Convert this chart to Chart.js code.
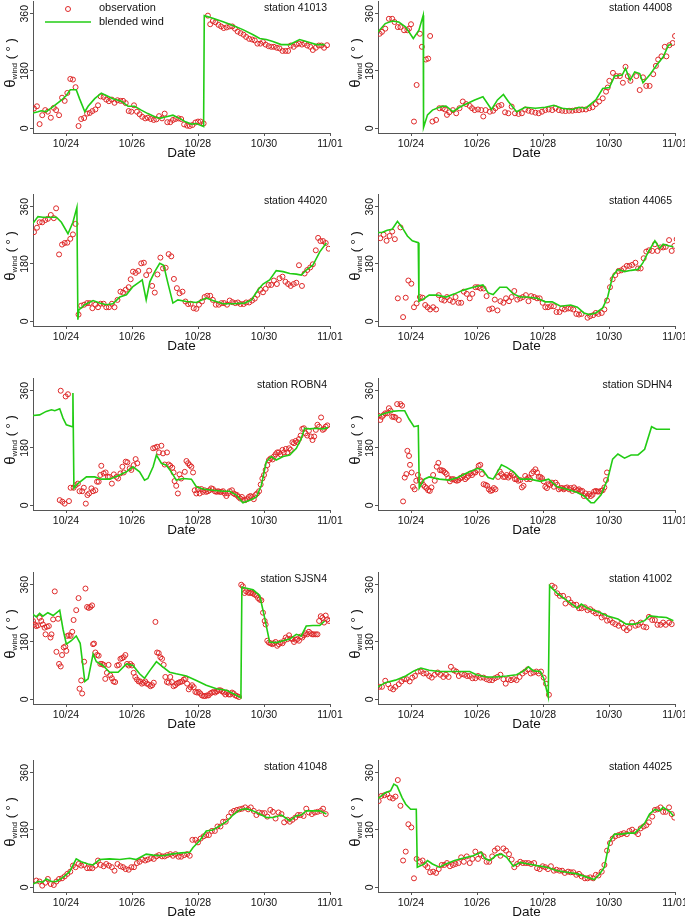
<!DOCTYPE html>
<html>
<head>
<meta charset="utf-8">
<title>Wind direction at buoy stations</title>
<script src="https://cdn.jsdelivr.net/npm/chart.js@4.4.0/dist/chart.umd.min.js"></script>
<style>
  body { margin: 0; background: #fff; }
  #wrap { position: relative; width: 685px; height: 916px; overflow: hidden; }
  #wrap canvas { position: absolute; }
</style>
</head>
<body>
<div id="wrap"></div>
<script>
// x is days since 10/23 00:00, y is wind direction in degrees
var dateTicks = [1, 3, 5, 7, 9];
var dateLabels = ['10/24', '10/26', '10/28', '10/30', '11/01'];
var angleTicks = [0, 180, 360];

var obs41013 = [[0.03,62],[0.12,69],[0.2,13],[0.28,41],[0.37,57],[0.45,52],[0.54,33],[0.63,64],[0.7,57],[0.79,41],[0.88,96],[0.96,86],[1.04,111],[1.13,155],[1.21,153],[1.29,129],[1.38,7],[1.46,29],[1.55,32],[1.64,46],[1.72,48],[1.8,54],[1.89,59],[1.97,72],[2.05,100],[2.14,98],[2.22,90],[2.3,85],[2.39,90],[2.47,80],[2.56,88],[2.65,86],[2.73,86],[2.81,79],[2.9,54],[2.98,52],[3.06,72],[3.15,52],[3.23,44],[3.31,36],[3.4,31],[3.48,33],[3.57,29],[3.66,26],[3.74,28],[3.82,38],[3.91,31],[3.99,46],[4.07,19],[4.16,19],[4.24,26],[4.32,29],[4.41,31],[4.49,29],[4.58,12],[4.67,8],[4.75,7],[4.83,10],[4.92,18],[5.0,21],[5.08,21],[5.17,15],[5.3,354],[5.37,327],[5.45,337],[5.53,333],[5.62,325],[5.7,320],[5.78,315],[5.87,317],[5.96,320],[6.04,320],[6.12,313],[6.2,304],[6.29,299],[6.38,294],[6.46,287],[6.55,281],[6.64,279],[6.72,276],[6.8,266],[6.89,266],[6.97,271],[7.05,263],[7.14,258],[7.22,256],[7.3,256],[7.39,253],[7.47,251],[7.56,243],[7.65,243],[7.73,243],[7.81,260],[7.9,256],[7.98,263],[8.06,266],[8.15,263],[8.23,266],[8.31,260],[8.4,256],[8.48,246],[8.57,253],[8.66,260],[8.74,260],[8.82,253],[8.91,261]];
var wind41013 = [[0,48],[0.15,52],[0.25,55],[0.4,52],[0.6,67],[0.86,88],[1.01,103],[1.13,121],[1.31,121],[1.41,93],[1.57,52],[1.67,69],[1.87,93],[2.07,110],[2.22,103],[2.42,93],[2.68,85],[2.88,69],[3.08,69],[3.28,57],[3.48,46],[3.69,36],[3.84,31],[4.04,36],[4.24,41],[4.44,31],[4.6,21],[4.8,13],[4.95,15],[5.17,5],[5.19,354],[5.45,346],[5.76,335],[6.06,323],[6.36,310],[6.67,294],[6.87,282],[7.07,279],[7.27,273],[7.52,263],[7.78,263],[8.08,279],[8.28,273],[8.59,263],[8.84,263]];

var obs44008 = [[0.05,297],[0.12,303],[0.22,313],[0.33,344],[0.43,344],[0.5,334],[0.6,318],[0.68,318],[0.79,308],[0.89,308],[0.94,313],[1.0,327],[1.09,21],[1.17,136],[1.27,297],[1.33,256],[1.45,216],[1.52,219],[1.58,290],[1.65,21],[1.76,26],[1.86,63],[1.96,63],[2.03,59],[2.09,42],[2.16,50],[2.27,57],[2.37,47],[2.47,63],[2.57,84],[2.67,76],[2.78,70],[2.85,63],[2.93,57],[3.03,59],[3.13,57],[3.19,37],[3.26,57],[3.39,52],[3.49,55],[3.56,63],[3.66,70],[3.74,73],[3.85,50],[3.95,47],[4.05,68],[4.15,47],[4.26,45],[4.36,47],[4.46,59],[4.56,55],[4.66,52],[4.77,49],[4.87,47],[4.97,52],[5.07,57],[5.17,59],[5.28,57],[5.38,63],[5.48,57],[5.58,55],[5.68,54],[5.79,55],[5.89,55],[5.99,57],[6.09,57],[6.19,59],[6.3,59],[6.4,63],[6.5,66],[6.6,76],[6.7,84],[6.81,94],[6.91,115],[6.96,128],[7.01,149],[7.12,174],[7.22,164],[7.33,164],[7.42,143],[7.5,193],[7.57,164],[7.65,149],[7.83,164],[7.93,120],[8.03,160],[8.13,133],[8.23,133],[8.34,170],[8.42,196],[8.49,216],[8.59,226],[8.69,256],[8.74,226],[8.83,261],[8.93,268],[9.0,290]];
var wind44008 = [[0,303],[0.22,329],[0.43,337],[0.63,334],[0.84,318],[1.07,282],[1.24,308],[1.37,355],[1.38,2],[1.5,42],[1.65,57],[1.91,68],[2.06,70],[2.27,52],[2.47,66],[2.67,76],[2.93,89],[3.18,99],[3.44,59],[3.62,89],[3.8,106],[3.95,84],[4.2,52],[4.46,66],[4.77,63],[5.07,66],[5.33,72],[5.58,63],[5.89,59],[6.09,66],[6.3,63],[6.6,89],[6.81,125],[7.01,128],[7.17,164],[7.4,167],[7.5,188],[7.64,151],[7.78,177],[7.93,172],[8.03,143],[8.23,167],[8.44,198],[8.64,224],[8.8,261],[8.9,263]];

var obs44020 = [[0.03,280],[0.12,294],[0.2,311],[0.28,311],[0.37,318],[0.45,322],[0.54,334],[0.63,324],[0.7,355],[0.79,210],[0.88,241],[0.96,246],[1.04,247],[1.13,259],[1.21,273],[1.29,306],[1.38,21],[1.46,49],[1.55,52],[1.64,57],[1.72,57],[1.8,41],[1.89,52],[1.97,44],[2.05,55],[2.14,55],[2.22,44],[2.3,44],[2.39,55],[2.47,44],[2.56,67],[2.65,93],[2.73,90],[2.81,99],[2.9,107],[2.96,132],[3.03,156],[3.11,152],[3.19,158],[3.28,182],[3.36,184],[3.43,145],[3.52,159],[3.61,111],[3.69,90],[3.77,147],[3.86,200],[3.94,166],[4.02,168],[4.11,211],[4.19,204],[4.27,133],[4.36,104],[4.44,88],[4.53,93],[4.62,62],[4.7,54],[4.78,55],[4.87,41],[4.95,39],[5.03,52],[5.12,62],[5.2,76],[5.28,80],[5.37,80],[5.45,67],[5.54,52],[5.63,52],[5.71,57],[5.79,57],[5.88,52],[5.96,65],[6.04,60],[6.13,57],[6.21,59],[6.29,54],[6.38,54],[6.46,59],[6.55,59],[6.64,65],[6.72,71],[6.8,83],[6.89,99],[6.97,91],[7.05,102],[7.14,114],[7.22,114],[7.3,128],[7.39,117],[7.47,135],[7.56,140],[7.65,124],[7.73,117],[7.81,111],[7.9,117],[7.98,121],[8.06,176],[8.15,111],[8.23,150],[8.31,161],[8.4,169],[8.48,179],[8.57,223],[8.64,262],[8.71,252],[8.79,252],[8.87,246],[8.96,228]];
var wind44020 = [[0,308],[0.15,329],[0.3,327],[0.5,327],[0.71,327],[0.86,311],[1.06,275],[1.21,311],[1.33,358],[1.36,5],[1.39,36],[1.57,52],[1.82,65],[2.02,57],[2.22,52],[2.42,55],[2.63,76],[2.83,83],[3.03,109],[3.23,124],[3.31,130],[3.43,67],[3.54,124],[3.69,156],[3.84,182],[3.96,176],[4.09,119],[4.24,57],[4.39,67],[4.65,62],[4.95,59],[5.25,73],[5.45,65],[5.76,55],[6.06,55],[6.41,57],[6.62,67],[6.82,99],[6.97,117],[7.17,130],[7.37,159],[7.58,156],[7.78,150],[7.98,148],[8.13,145],[8.28,161],[8.48,176],[8.69,218],[8.89,246]];

var obs44065 = [[0.07,261],[0.17,272],[0.26,253],[0.35,268],[0.43,282],[0.51,258],[0.6,72],[0.68,295],[0.76,13],[0.84,74],[0.92,128],[1.01,118],[1.09,44],[1.17,56],[1.27,76],[1.35,74],[1.43,51],[1.5,44],[1.58,37],[1.67,44],[1.76,37],[1.84,82],[1.93,68],[2.01,65],[2.09,76],[2.18,66],[2.27,61],[2.35,76],[2.44,58],[2.52,58],[2.6,93],[2.69,86],[2.78,72],[2.86,86],[2.95,107],[3.03,107],[3.11,103],[3.2,103],[3.29,79],[3.37,37],[3.46,40],[3.54,68],[3.62,34],[3.71,63],[3.8,58],[3.88,72],[3.97,63],[4.05,76],[4.13,95],[4.22,68],[4.31,72],[4.39,76],[4.48,82],[4.56,63],[4.64,79],[4.73,76],[4.82,72],[4.9,72],[4.99,58],[5.07,44],[5.15,44],[5.24,47],[5.33,47],[5.41,29],[5.5,29],[5.58,40],[5.66,37],[5.76,40],[5.84,40],[5.92,37],[6.01,23],[6.09,21],[6.17,23],[6.35,11],[6.43,16],[6.52,19],[6.6,26],[6.68,23],[6.78,26],[6.86,37],[6.94,65],[7.03,107],[7.11,132],[7.19,145],[7.29,158],[7.37,160],[7.45,166],[7.54,174],[7.62,174],[7.7,177],[7.8,184],[7.88,166],[7.96,166],[8.05,198],[8.13,219],[8.21,223],[8.31,221],[8.39,242],[8.47,221],[8.56,232],[8.64,232],[8.72,234],[8.82,255],[8.9,221],[8.98,237],[9.05,258]];
var wind44065 = [[0,279],[0.12,279],[0.28,286],[0.43,289],[0.59,314],[0.73,295],[0.89,268],[1.04,253],[1.22,247],[1.24,63],[1.35,68],[1.55,82],[1.8,82],[2.06,76],[2.32,86],[2.57,97],[2.83,105],[3.03,111],[3.18,114],[3.34,89],[3.49,84],[3.69,107],[3.9,107],[4.1,86],[4.31,76],[4.51,76],[4.82,72],[5.07,61],[5.28,61],[5.53,47],[5.84,51],[6.04,44],[6.24,26],[6.4,21],[6.6,26],[6.81,42],[6.96,76],[7.11,142],[7.27,163],[7.47,156],[7.67,160],[7.88,163],[8.03,184],[8.18,216],[8.39,253],[8.54,229],[8.64,242],[8.8,237],[8.95,234]];

var obsROBN4 = [[0.81,16],[0.84,360],[0.89,11],[0.96,5],[0.99,342],[1.06,349],[1.09,13],[1.14,55],[1.23,55],[1.29,63],[1.36,68],[1.41,44],[1.49,44],[1.54,55],[1.6,5],[1.65,32],[1.7,37],[1.77,53],[1.82,44],[1.89,47],[1.94,74],[1.99,74],[2.04,95],[2.07,124],[2.14,100],[2.2,103],[2.27,89],[2.32,89],[2.39,68],[2.45,97],[2.53,89],[2.58,84],[2.65,100],[2.71,121],[2.75,103],[2.81,137],[2.86,135],[2.93,116],[2.98,111],[3.05,126],[3.11,145],[3.16,132],[3.64,179],[3.7,181],[3.76,184],[3.82,166],[3.89,187],[3.94,163],[3.99,128],[4.06,166],[4.11,128],[4.16,124],[4.22,118],[4.26,103],[4.29,76],[4.34,61],[4.39,37],[4.44,97],[4.49,84],[4.6,105],[4.65,139],[4.7,132],[4.75,126],[4.8,121],[4.85,103],[4.9,47],[4.95,37],[5.0,51],[5.05,37],[5.1,51],[5.15,42],[5.2,47],[5.25,42],[5.3,44],[5.35,47],[5.4,53],[5.45,51],[5.51,44],[5.56,42],[5.61,44],[5.66,42],[5.71,42],[5.76,44],[5.81,37],[5.86,29],[5.91,37],[5.96,44],[6.03,47],[6.08,37],[6.13,34],[6.18,32],[6.23,26],[6.28,21],[6.33,26],[6.38,16],[6.43,16],[6.48,19],[6.54,26],[6.59,29],[6.64,26],[6.69,19],[6.74,32],[6.79,37],[6.85,44],[6.9,65],[6.95,84],[7.0,95],[7.05,111],[7.1,126],[7.15,142],[7.2,147],[7.26,144],[7.3,153],[7.35,160],[7.4,166],[7.45,166],[7.5,160],[7.56,174],[7.6,166],[7.66,177],[7.71,166],[7.76,179],[7.81,174],[7.86,198],[7.91,195],[7.96,202],[8.01,198],[8.06,208],[8.11,219],[8.16,240],[8.21,242],[8.26,226],[8.31,219],[8.36,234],[8.42,216],[8.47,205],[8.52,216],[8.57,237],[8.62,253],[8.67,247],[8.73,276],[8.78,237],[8.82,240],[8.87,247],[8.92,251]];
var windROBN4 = [[0,282],[0.2,284],[0.4,295],[0.56,300],[0.66,297],[0.81,303],[0.91,274],[1.01,253],[1.19,247],[1.21,353],[1.24,53],[1.36,68],[1.62,89],[1.87,89],[2.07,82],[2.32,82],[2.58,93],[2.83,105],[3.03,121],[3.23,105],[3.38,79],[3.48,84],[3.64,121],[3.74,158],[3.89,132],[4.04,126],[4.19,105],[4.34,79],[4.55,84],[4.8,82],[4.95,58],[5.15,51],[5.45,47],[5.76,44],[5.96,44],[6.16,32],[6.36,8],[6.57,16],[6.77,26],[6.92,63],[7.07,137],[7.22,153],[7.37,142],[7.58,153],[7.78,158],[7.98,179],[8.13,210],[8.23,242],[8.38,240],[8.59,242],[8.79,240],[8.94,244]];

var obsSDHN4 = [[0.02,281],[0.07,268],[0.12,278],[0.17,284],[0.22,289],[0.28,289],[0.33,305],[0.38,297],[0.43,278],[0.48,278],[0.53,276],[0.58,318],[0.63,268],[0.68,318],[0.73,313],[0.76,12],[0.81,87],[0.86,98],[0.89,171],[0.94,155],[0.97,127],[1.02,103],[1.06,58],[1.11,50],[1.16,77],[1.21,95],[1.27,79],[1.32,75],[1.37,64],[1.42,58],[1.47,54],[1.52,47],[1.57,45],[1.62,56],[1.67,95],[1.72,77],[1.78,121],[1.83,133],[1.88,110],[1.93,110],[1.98,108],[2.03,103],[2.08,98],[2.13,85],[2.18,75],[2.23,82],[2.29,82],[2.34,79],[2.39,77],[2.44,79],[2.49,85],[2.54,87],[2.59,92],[2.64,82],[2.69,87],[2.74,92],[2.8,100],[2.85,95],[2.9,103],[2.95,103],[3.0,110],[3.05,124],[3.1,127],[3.15,98],[3.2,66],[3.26,64],[3.31,61],[3.36,50],[3.41,45],[3.46,47],[3.51,54],[3.56,50],[3.64,89],[3.69,106],[3.74,98],[3.8,89],[3.85,89],[3.9,95],[3.95,87],[4.0,92],[4.05,100],[4.1,95],[4.15,82],[4.2,82],[4.25,77],[4.31,79],[4.36,56],[4.41,61],[4.46,92],[4.51,82],[4.56,87],[4.61,82],[4.66,100],[4.71,106],[4.77,113],[4.82,103],[4.87,89],[4.92,89],[4.97,85],[5.02,75],[5.07,58],[5.12,54],[5.17,66],[5.22,64],[5.27,71],[5.33,58],[5.38,71],[5.43,64],[5.48,50],[5.53,54],[5.58,54],[5.63,50],[5.68,54],[5.73,56],[5.79,50],[5.84,54],[5.89,45],[5.94,56],[5.99,50],[6.04,47],[6.09,50],[6.14,45],[6.19,45],[6.24,29],[6.29,37],[6.35,29],[6.4,35],[6.45,29],[6.5,33],[6.55,43],[6.6,45],[6.65,43],[6.7,43],[6.76,45],[6.81,47],[6.86,56],[6.91,79],[6.94,103]];
var windSDHN4 = [[0,281],[0.22,289],[0.43,295],[0.63,297],[0.81,297],[0.94,271],[1.09,247],[1.22,250],[1.25,54],[1.4,82],[1.55,89],[1.86,82],[2.16,79],[2.42,87],[2.72,103],[3.03,116],[3.18,110],[3.34,87],[3.49,82],[3.64,108],[3.74,127],[3.9,119],[4.1,106],[4.31,82],[4.61,82],[4.92,75],[5.17,82],[5.43,58],[5.73,50],[6.04,40],[6.24,29],[6.45,8],[6.55,8],[6.76,33],[6.96,82],[7.11,145],[7.27,161],[7.47,148],[7.67,158],[7.88,158],[8.08,176],[8.29,247],[8.44,239],[8.64,239],[8.85,239]];

var obsSJSN4 = [[0,246],[0.05,235],[0.1,230],[0.15,232],[0.2,256],[0.25,246],[0.3,235],[0.35,225],[0.38,204],[0.42,228],[0.48,230],[0.53,194],[0.56,204],[0.61,251],[0.66,339],[0.71,149],[0.76,253],[0.79,111],[0.84,103],[0.88,139],[0.93,163],[0.98,166],[1.01,152],[1.04,199],[1.09,201],[1.14,199],[1.19,212],[1.23,249],[1.31,280],[1.38,318],[1.41,33],[1.46,59],[1.49,18],[1.55,118],[1.59,348],[1.64,290],[1.69,287],[1.74,290],[1.79,295],[1.82,173],[1.85,175],[1.89,147],[1.94,139],[1.99,137],[2.04,111],[2.09,111],[2.14,108],[2.19,64],[2.24,83],[2.29,108],[2.34,75],[2.39,66],[2.44,56],[2.49,54],[2.55,106],[2.6,108],[2.65,127],[2.7,129],[2.75,132],[2.8,139],[2.85,111],[2.9,106],[2.95,111],[3.0,106],[3.05,83],[3.1,70],[3.15,62],[3.2,56],[3.25,56],[3.3,49],[3.35,52],[3.4,56],[3.45,49],[3.51,46],[3.56,41],[3.61,44],[3.66,52],[3.71,243],[3.76,147],[3.81,145],[3.86,132],[3.91,127],[3.96,108],[4.01,70],[4.06,54],[4.11,52],[4.16,70],[4.21,54],[4.26,41],[4.31,44],[4.36,49],[4.41,52],[4.46,54],[4.52,56],[4.57,62],[4.62,64],[4.67,49],[4.72,31],[4.77,38],[4.82,44],[4.87,38],[4.92,23],[4.97,21],[5.02,23],[5.07,18],[5.12,12],[5.17,10],[5.22,10],[5.27,12],[5.32,12],[5.37,18],[5.42,21],[5.47,23],[5.52,21],[5.58,25],[5.63,28],[5.68,28],[5.73,25],[5.78,21],[5.83,15],[5.88,21],[5.93,15],[5.98,15],[6.03,21],[6.08,18],[6.13,12],[6.18,10],[6.24,7],[6.31,360],[6.36,355],[6.41,334],[6.46,339],[6.52,335],[6.57,334],[6.62,335],[6.67,332],[6.72,329],[6.77,326],[6.82,318],[6.87,313],[6.92,311],[6.97,272],[7.02,246],[7.05,235],[7.1,184],[7.15,178],[7.2,176],[7.25,173],[7.3,176],[7.35,180],[7.4,168],[7.45,173],[7.5,178],[7.56,176],[7.61,184],[7.66,194],[7.71,189],[7.76,201],[7.81,191],[7.86,189],[7.91,180],[7.96,187],[8.01,189],[8.06,184],[8.11,197],[8.16,194],[8.21,201],[8.26,207],[8.31,204],[8.36,212],[8.41,207],[8.46,204],[8.51,204],[8.57,204],[8.62,204],[8.67,246],[8.72,261],[8.77,256],[8.82,241],[8.87,263],[8.92,251],[8.97,246]];
var windSJSN4 = [[0,267],[0.1,259],[0.2,270],[0.3,261],[0.45,272],[0.61,263],[0.81,280],[0.91,220],[1.01,173],[1.16,184],[1.31,199],[1.43,176],[1.57,56],[1.67,64],[1.82,142],[1.92,118],[2.12,106],[2.32,85],[2.58,85],[2.83,111],[3.03,106],[3.23,80],[3.38,66],[3.54,90],[3.74,118],[3.94,101],[4.14,85],[4.34,80],[4.65,73],[4.95,59],[5.25,44],[5.56,33],[5.86,28],[6.06,18],[6.3,5],[6.33,352],[6.67,344],[6.87,326],[7.02,256],[7.17,180],[7.37,178],[7.58,184],[7.78,189],[7.98,204],[8.13,199],[8.28,230],[8.48,232],[8.69,232],[8.84,246]];

var obs41002 = [[0.04,39],[0.12,39],[0.22,58],[0.31,47],[0.38,35],[0.46,31],[0.53,39],[0.63,47],[0.71,56],[0.79,63],[0.87,63],[0.96,56],[1.04,68],[1.12,73],[1.21,87],[1.3,87],[1.38,81],[1.47,81],[1.55,73],[1.63,68],[1.72,77],[1.81,84],[1.89,77],[1.98,70],[2.06,77],[2.14,70],[2.21,102],[2.3,91],[2.37,87],[2.45,73],[2.54,79],[2.62,77],[2.7,73],[2.78,73],[2.86,66],[2.95,66],[3.03,73],[3.11,68],[3.2,68],[3.29,63],[3.37,60],[3.46,60],[3.54,66],[3.62,70],[3.71,77],[3.8,63],[3.87,49],[3.95,63],[4.03,60],[4.12,63],[4.2,60],[4.29,70],[4.38,81],[4.46,87],[4.54,94],[4.63,81],[4.71,84],[4.8,87],[4.87,81],[4.94,87],[5.02,68],[5.09,49],[5.18,14],[5.27,357],[5.35,352],[5.43,333],[5.51,325],[5.61,325],[5.68,301],[5.77,315],[5.84,304],[5.92,297],[6.01,297],[6.09,286],[6.17,286],[6.27,289],[6.35,280],[6.43,283],[6.52,276],[6.6,270],[6.68,270],[6.78,257],[6.86,262],[6.94,247],[7.03,249],[7.11,241],[7.19,236],[7.29,231],[7.37,238],[7.45,224],[7.54,217],[7.62,224],[7.7,241],[7.8,231],[7.88,234],[7.96,241],[8.05,228],[8.13,226],[8.21,259],[8.31,249],[8.39,249],[8.47,234],[8.56,234],[8.64,241],[8.72,234],[8.82,241],[8.9,236]];
var wind41002 = [[0,39],[0.22,52],[0.53,60],[0.84,73],[1.09,89],[1.3,98],[1.55,91],[1.86,87],[2.16,87],[2.47,87],[2.78,87],[2.98,77],[3.29,70],[3.59,70],[3.9,73],[4.2,77],[4.41,89],[4.56,102],[4.71,89],[4.92,87],[5.02,66],[5.16,8],[5.2,357],[5.43,333],[5.73,310],[6.04,286],[6.16,299],[6.35,286],[6.65,276],[6.96,262],[7.27,252],[7.52,236],[7.78,236],[8.08,247],[8.23,262],[8.49,259],[8.74,257],[8.95,247]];

var obs41048 = [[0.1,21],[0.2,18],[0.28,5],[0.37,14],[0.45,26],[0.54,10],[0.63,7],[0.71,18],[0.79,26],[0.88,28],[0.96,34],[1.04,42],[1.13,49],[1.21,68],[1.29,63],[1.38,73],[1.46,68],[1.55,70],[1.64,60],[1.72,60],[1.8,60],[1.89,68],[1.97,84],[2.05,70],[2.14,66],[2.22,73],[2.3,68],[2.39,63],[2.47,52],[2.56,73],[2.65,66],[2.73,63],[2.81,57],[2.9,55],[2.98,63],[3.06,63],[3.15,76],[3.23,80],[3.31,87],[3.4,84],[3.48,87],[3.57,91],[3.66,89],[3.74,97],[3.82,101],[3.91,97],[3.99,97],[4.07,101],[4.16,104],[4.24,99],[4.32,104],[4.41,96],[4.49,96],[4.58,101],[4.67,104],[4.75,99],[4.83,149],[4.92,149],[5.0,141],[5.08,153],[5.17,160],[5.25,164],[5.33,164],[5.42,177],[5.51,177],[5.59,191],[5.68,191],[5.76,206],[5.84,206],[5.93,222],[6.01,235],[6.09,240],[6.18,243],[6.26,245],[6.34,247],[6.43,251],[6.52,245],[6.6,251],[6.69,240],[6.77,227],[6.85,235],[6.94,233],[7.02,233],[7.1,222],[7.19,243],[7.27,237],[7.35,216],[7.44,235],[7.53,230],[7.61,204],[7.71,212],[7.78,206],[7.86,212],[7.95,219],[8.03,227],[8.11,227],[8.2,224],[8.28,247],[8.36,235],[8.45,230],[8.54,235],[8.62,237],[8.72,240],[8.79,247],[8.87,230]];
var wind41048 = [[0,10],[0.15,18],[0.3,16],[0.4,26],[0.56,18],[0.71,18],[0.91,31],[1.11,49],[1.31,89],[1.46,80],[1.67,73],[1.82,70],[2.02,87],[2.32,89],[2.63,87],[2.93,91],[3.13,87],[3.43,104],[3.64,101],[3.94,99],[4.19,104],[4.49,108],[4.75,110],[4.85,125],[5.05,146],[5.25,177],[5.45,180],[5.66,193],[5.86,206],[6.06,227],[6.26,243],[6.46,247],[6.67,240],[6.87,230],[7.07,219],[7.27,219],[7.53,227],[7.78,209],[7.98,225],[8.13,227],[8.28,240],[8.48,240],[8.69,240],[8.89,230]];

var obs44025 = [[0.02,271],[0.1,287],[0.19,289],[0.28,292],[0.36,282],[0.45,279],[0.53,285],[0.6,337],[0.68,256],[0.76,84],[0.84,112],[0.92,198],[1.01,188],[1.09,28],[1.17,89],[1.27,80],[1.35,84],[1.43,70],[1.5,63],[1.58,47],[1.67,49],[1.76,45],[1.84,57],[1.93,70],[2.01,70],[2.09,76],[2.18,66],[2.27,70],[2.35,73],[2.44,76],[2.52,94],[2.6,80],[2.69,97],[2.78,76],[2.86,89],[2.95,112],[3.03,89],[3.11,104],[3.2,97],[3.29,80],[3.37,80],[3.46,97],[3.54,115],[3.62,122],[3.71,99],[3.8,122],[3.88,115],[3.97,104],[4.05,87],[4.13,63],[4.22,73],[4.31,80],[4.39,76],[4.48,76],[4.56,76],[4.64,73],[4.73,76],[4.82,60],[4.9,57],[4.99,66],[5.07,63],[5.15,57],[5.24,66],[5.33,52],[5.41,55],[5.5,52],[5.58,52],[5.66,45],[5.76,49],[5.84,47],[5.92,47],[6.01,39],[6.09,42],[6.17,34],[6.27,28],[6.35,28],[6.43,31],[6.52,28],[6.6,39],[6.68,37],[6.78,49],[6.86,70],[6.94,115],[7.03,139],[7.11,153],[7.19,160],[7.29,164],[7.37,167],[7.45,170],[7.54,167],[7.62,177],[7.7,181],[7.8,174],[7.88,167],[7.96,185],[8.05,191],[8.13,195],[8.21,204],[8.31,222],[8.39,243],[8.47,245],[8.56,251],[8.64,237],[8.72,237],[8.82,251],[8.9,230],[8.98,219]];
var wind44025 = [[0,279],[0.12,289],[0.22,297],[0.38,303],[0.48,324],[0.58,318],[0.73,282],[0.84,261],[0.99,245],[1.16,245],[1.19,63],[1.3,68],[1.4,73],[1.5,84],[1.65,73],[1.86,63],[2.06,73],[2.32,84],[2.57,91],[2.88,99],[3.13,110],[3.23,91],[3.39,84],[3.59,101],[3.74,104],[3.9,94],[4.1,66],[4.31,78],[4.56,73],[4.82,68],[5.12,63],[5.43,52],[5.73,47],[6.04,42],[6.35,31],[6.55,24],[6.7,39],[6.86,63],[7.01,141],[7.17,167],[7.37,167],[7.58,170],[7.78,170],[7.93,185],[8.08,201],[8.23,230],[8.39,245],[8.54,240],[8.64,251],[8.85,237],[8.95,224]];

var panels = [
  ['41013', obs41013, wind41013],
  ['44008', obs44008, wind44008],
  ['44020', obs44020, wind44020],
  ['44065', obs44065, wind44065],
  ['ROBN4', obsROBN4, windROBN4],
  ['SDHN4', obsSDHN4, windSDHN4],
  ['SJSN4', obsSJSN4, windSJSN4],
  ['41002', obs41002, wind41002],
  ['41048', obs41048, wind41048],
  ['44025', obs44025, wind44025]
];

var FONT = '"Liberation Sans", Arial, sans-serif';
var RED = 'rgb(222,40,40)';
var GREEN = 'rgb(34,204,20)';
var AXIS = '#555';

Chart.defaults.font.family = FONT;

// frame of every panel
var colLeft = [33, 378];
var rowTop = [0, 193, 377, 571, 759];
var areaW = 297, areaH = 133;
var padL = 33, padT = 4, padR = 25, padB = 32;

function toXY(list) {
  return list.map(function (p) { return { x: p[0], y: p[1] }; });
}

// text around each panel: rotated y labels, y title, Date, station name, legend
var panelText = {
  id: 'panelText',
  afterDraw: function (chart) {
    var opt = chart.options.plugins.panelText;
    var ctx = chart.ctx, a = chart.chartArea, ys = chart.scales.y;
    ctx.save();
    ctx.fillStyle = '#111';
    ctx.textBaseline = 'middle';

    ctx.font = '10.5px ' + FONT;
    ctx.textAlign = 'center';
    angleTicks.forEach(function (v) {
      ctx.save();
      ctx.translate(a.left - 8, ys.getPixelForValue(v));
      ctx.rotate(-Math.PI / 2);
      ctx.fillText(String(v), 0, 0);
      ctx.restore();
    });

    // θwind ( ° )
    var parts = [['θ', 15, 0], ['wind', 8, 4], [' ( ° )', 13, 0]];
    var total = 0;
    parts.forEach(function (p) { ctx.font = p[1] + 'px ' + FONT; total += ctx.measureText(p[0]).width; });
    ctx.save();
    ctx.translate(a.left - 22, (a.top + a.bottom) / 2 - 4);
    ctx.rotate(-Math.PI / 2);
    ctx.textAlign = 'left';
    var x = -total / 2;
    parts.forEach(function (p) {
      ctx.font = p[1] + 'px ' + FONT;
      ctx.fillText(p[0], x, p[2]);
      x += ctx.measureText(p[0]).width;
    });
    ctx.restore();

    ctx.textAlign = 'center';
    ctx.font = '13.5px ' + FONT;
    ctx.fillText('Date', (a.left + a.right) / 2, a.bottom + 20);

    ctx.textAlign = 'right';
    ctx.font = '10.5px ' + FONT;
    ctx.fillText('station ' + opt.station, a.right - 3, a.top + 7);

    if (opt.legend) {
      ctx.textAlign = 'left';
      ctx.font = '11px ' + FONT;
      ctx.strokeStyle = RED;
      ctx.lineWidth = 1;
      ctx.beginPath();
      ctx.arc(a.left + 35, a.top + 8, 2.5, 0, Math.PI * 2);
      ctx.stroke();
      ctx.fillText('observation', a.left + 66, a.top + 7);
      ctx.strokeStyle = GREEN;
      ctx.lineWidth = 1.6;
      ctx.beginPath();
      ctx.moveTo(a.left + 12, a.top + 21);
      ctx.lineTo(a.left + 58, a.top + 21);
      ctx.stroke();
      ctx.fillText('blended wind', a.left + 66, a.top + 21);
    }
    ctx.restore();
  }
};

var wrap = document.getElementById('wrap');

panels.forEach(function (p, i) {
  var col = i % 2, row = Math.floor(i / 2);
  var cv = document.createElement('canvas');
  cv.width = padL + areaW + padR;
  cv.height = padT + areaH + padB;
  cv.style.left = (colLeft[col] - padL) + 'px';
  cv.style.top = (rowTop[row] - padT) + 'px';
  wrap.appendChild(cv);

  new Chart(cv.getContext('2d'), {
    type: 'scatter',
    data: {
      datasets: [{
        label: 'blended wind',
        data: toXY(p[2]),
        showLine: true,
        borderColor: GREEN,
        borderWidth: 1.6,
        pointRadius: 0,
        tension: 0
      }, {
        label: 'observation',
        data: toXY(p[1]),
        showLine: false,
        pointRadius: 2.5,
        pointBorderWidth: 1,
        borderColor: RED,
        backgroundColor: 'rgba(0,0,0,0)'
      }]
    },
    options: {
      responsive: false,
      animation: false,
      devicePixelRatio: 1,
      layout: { padding: { left: 0, top: padT, right: padR, bottom: 0 } },
      plugins: {
        legend: { display: false },
        tooltip: { enabled: false },
        panelText: { station: p[0], legend: i === 0 }
      },
      scales: {
        x: {
          type: 'linear',
          min: 0,
          max: 9,
          afterBuildTicks: function (s) { s.ticks = dateTicks.map(function (v) { return { value: v }; }); },
          afterFit: function (s) { s.height = padB; },
          ticks: {
            autoSkip: false,
            maxRotation: 0,
            padding: 2,
            color: '#111',
            font: { size: 10.5 },
            callback: function (v) { var k = dateTicks.indexOf(v); return k < 0 ? '' : dateLabels[k]; }
          },
          grid: { drawOnChartArea: false, drawTicks: true, tickLength: 3, color: AXIS },
          border: { color: AXIS, width: 1 }
        },
        y: {
          min: -15,
          max: 400,
          afterBuildTicks: function (s) { s.ticks = angleTicks.map(function (v) { return { value: v }; }); },
          afterFit: function (s) { s.width = padL; },
          ticks: { display: false },
          grid: { drawOnChartArea: false, drawTicks: true, tickLength: 3, color: AXIS },
          border: { color: AXIS, width: 1 }
        }
      }
    },
    plugins: [panelText]
  });
});
</script>
</body>
</html>
